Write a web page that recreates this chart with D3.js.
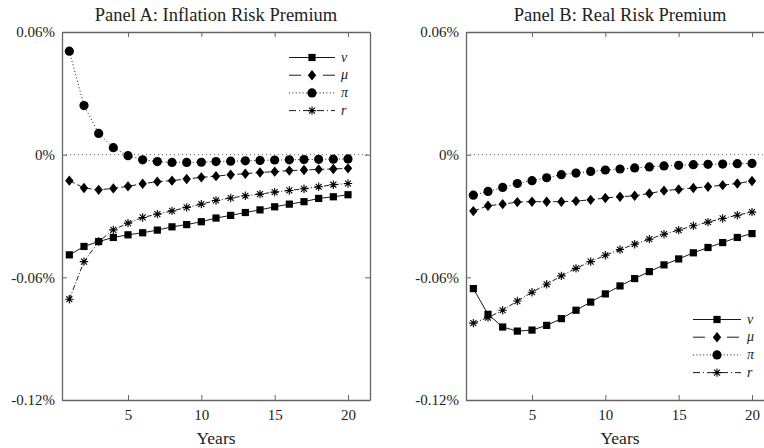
<!DOCTYPE html>
<html>
<head>
<meta charset="utf-8">
<script src="https://cdn.jsdelivr.net/npm/d3@7"></script>
<style>
  body { margin: 0; background: #fff; }
  svg { display: block; }
  text { font-family: "Liberation Serif", "DejaVu Serif", serif; fill: #222; }
</style>
</head>
<body>
<div id="chart"></div>
<script>
// horizon in years
const years = [1, 2, 3, 4, 5, 6, 7, 8, 9, 10, 11, 12, 13, 14, 15, 16, 17, 18, 19, 20];

// Panel A: inflation risk premium (in %)
const inflV  = [-0.0490, -0.0449, -0.0425, -0.0405, -0.0392, -0.0382, -0.0369, -0.0353, -0.0342, -0.0328,
                -0.0310, -0.0297, -0.0283, -0.0270, -0.0255, -0.0242, -0.0230, -0.0214, -0.0206, -0.0196];
const inflMu = [-0.0127, -0.0163, -0.0172, -0.0165, -0.0155, -0.0142, -0.0132, -0.0127, -0.0119, -0.0111,
                -0.0105, -0.0098, -0.0093, -0.0087, -0.0083, -0.0078, -0.0075, -0.0072, -0.0070, -0.0067];
const inflPi = [ 0.0506,  0.0240,  0.0104,  0.0034, -0.0005, -0.0025, -0.0034, -0.0038, -0.0038, -0.0037,
                -0.0034, -0.0032, -0.0030, -0.0028, -0.0026, -0.0025, -0.0024, -0.0023, -0.0022, -0.0021];
const inflR  = [-0.0707, -0.0523, -0.0425, -0.0368, -0.0335, -0.0307, -0.0291, -0.0275, -0.0258, -0.0242,
                -0.0224, -0.0212, -0.0201, -0.0193, -0.0183, -0.0175, -0.0167, -0.0157, -0.0147, -0.0141];

// Panel B: real risk premium (in %)
const realV  = [-0.0655, -0.0781, -0.0843, -0.0863, -0.0858, -0.0835, -0.0802, -0.0761, -0.0721, -0.0681,
                -0.0642, -0.0606, -0.0572, -0.0539, -0.0510, -0.0480, -0.0454, -0.0430, -0.0405, -0.0386];
const realMu = [-0.0276, -0.0250, -0.0242, -0.0232, -0.0230, -0.0230, -0.0230, -0.0227, -0.0221, -0.0212,
                -0.0206, -0.0201, -0.0190, -0.0176, -0.0170, -0.0163, -0.0157, -0.0149, -0.0141, -0.0129];
const realPi = [-0.0198, -0.0180, -0.0160, -0.0141, -0.0127, -0.0113, -0.0098, -0.0090, -0.0082, -0.0075,
                -0.0070, -0.0065, -0.0060, -0.0055, -0.0052, -0.0049, -0.0047, -0.0046, -0.0044, -0.0043];
const realR  = [-0.0824, -0.0797, -0.0761, -0.0716, -0.0673, -0.0634, -0.0593, -0.0556, -0.0523, -0.0492,
                -0.0464, -0.0438, -0.0413, -0.0389, -0.0369, -0.0348, -0.0330, -0.0312, -0.0296, -0.0281];

const seriesNames = ["v", "μ", "π", "r"];
const yTicks = [0.06, 0, -0.06, -0.12];
const yTickLabels = ["0.06%", "0%", "-0.06%", "-0.12%"];
const xTicks = [5, 10, 15, 20];

const W = 764, H = 448;
const SERIF = '"Liberation Serif", "DejaVu Serif", serif';
const svg = d3.select("#chart").append("svg").attr("width", W).attr("height", H);

// line style + marker per series (legend has its own dash for the long-dash one)
const styles = [
  { dash: null,      legendDash: null,      mark: "square" },
  { dash: "6,3",     legendDash: "12,22",   mark: "diamond" },
  { dash: "1,2.4",   legendDash: "1,2.4",   mark: "circle" },
  { dash: "5,2,1,2", legendDash: "7,3,1,3", mark: "star" }
];

function drawMarker(g, kind, x, y) {
  if (kind === "square") {
    g.append("rect").attr("x", x - 3.6).attr("y", y - 3.6).attr("width", 7.2).attr("height", 7.2).attr("fill", "#000");
  } else if (kind === "circle") {
    g.append("circle").attr("cx", x).attr("cy", y).attr("r", 4.6).attr("fill", "#000");
  } else if (kind === "diamond") {
    g.append("path").attr("d", `M${x},${y - 5.2}L${x + 4.2},${y}L${x},${y + 5.2}L${x - 4.2},${y}Z`).attr("fill", "#000");
  } else {
    const r = 4.2, a = r * Math.SQRT1_2;
    g.append("path")
      .attr("d", `M${x - r},${y}L${x + r},${y}M${x},${y - r}L${x},${y + r}M${x - a},${y - a}L${x + a},${y + a}M${x - a},${y + a}L${x + a},${y - a}`)
      .attr("stroke", "#000").attr("stroke-width", 1.1).attr("fill", "none");
  }
}

function drawPanel(opts) {
  const { left, title, data, legend } = opts;
  const top = 32, bottom = 400, width = 308;

  const x = d3.scaleLinear().domain([0.5, 21.5]).range([left, left + width]);
  const y = d3.scaleLinear().domain([-0.12, 0.06]).range([bottom, top]);

  const g = svg.append("g");

  // zero line
  g.append("line")
    .attr("x1", x.range()[0]).attr("x2", x.range()[1])
    .attr("y1", y(0)).attr("y2", y(0))
    .attr("stroke", "#333").attr("stroke-width", 0.8).attr("stroke-dasharray", "1,3");

  // axes, ticks pointing inward
  const axL = g.append("g").attr("transform", `translate(${left},0)`)
    .call(d3.axisLeft(y).tickValues(yTicks).tickSize(-5).tickSizeOuter(0).tickPadding(7)
      .tickFormat((d, i) => yTickLabels[i]));
  const axB = g.append("g").attr("transform", `translate(0,${bottom})`)
    .call(d3.axisBottom(x).tickValues(xTicks).tickSize(-5).tickSizeOuter(0).tickPadding(9));
  const axT = g.append("g").attr("transform", `translate(0,${top})`)
    .call(d3.axisTop(x).tickValues(xTicks).tickSize(-5).tickSizeOuter(0).tickFormat(""));
  const axR = g.append("g").attr("transform", `translate(${left + width},0)`)
    .call(d3.axisRight(y).tickValues(yTicks).tickSize(-5).tickSizeOuter(0).tickFormat(""));

  [axL, axB, axT, axR].forEach(a => {
    a.attr("font-family", null).attr("font-size", null);
    a.select(".domain").attr("stroke", "#666").attr("stroke-width", 1.3);
    a.selectAll(".tick line").attr("stroke", "#666").attr("stroke-width", 1);
    a.selectAll("text").style("font-family", SERIF).style("font-size", "15px").attr("fill", "#222");
  });

  // series
  const line = d3.line().x((d, i) => x(years[i])).y(d => y(d));
  data.forEach((vals, k) => {
    const st = styles[k];
    g.append("path").datum(vals)
      .attr("d", line)
      .attr("fill", "none").attr("stroke", "#000").attr("stroke-width", 0.9)
      .attr("stroke-dasharray", st.dash);
    const mg = g.append("g");
    vals.forEach((v, i) => drawMarker(mg, st.mark, x(years[i]), y(v)));
  });

  // legend
  const lg = g.append("g");
  seriesNames.forEach((name, k) => {
    const ly = legend.y + k * 17.7;
    lg.append("line")
      .attr("x1", legend.x1).attr("x2", legend.x2).attr("y1", ly).attr("y2", ly)
      .attr("stroke", "#000").attr("stroke-width", 0.9).attr("stroke-dasharray", styles[k].legendDash);
    drawMarker(lg, styles[k].mark, (legend.x1 + legend.x2) / 2, ly);
    lg.append("text").attr("x", legend.x2 + 6).attr("y", ly + 4)
      .style("font-size", "14px").attr("font-style", "italic").text(name);
  });

  // title and x label
  g.append("text").attr("x", left + width / 2).attr("y", 21)
    .attr("text-anchor", "middle").style("font-size", "18.5px").text(title);
  g.append("text").attr("x", left + width / 2).attr("y", 444)
    .attr("text-anchor", "middle").style("font-size", "17.5px").text("Years");
}

drawPanel({
  left: 62,
  title: "Panel A: Inflation Risk Premium",
  data: [inflV, inflMu, inflPi, inflR],
  legend: { x1: 289, x2: 335, y: 57.5 }
});

drawPanel({
  left: 466,
  title: "Panel B: Real Risk Premium",
  data: [realV, realMu, realPi, realR],
  legend: { x1: 693, x2: 741, y: 319.5 }
});
</script>
</body>
</html>
